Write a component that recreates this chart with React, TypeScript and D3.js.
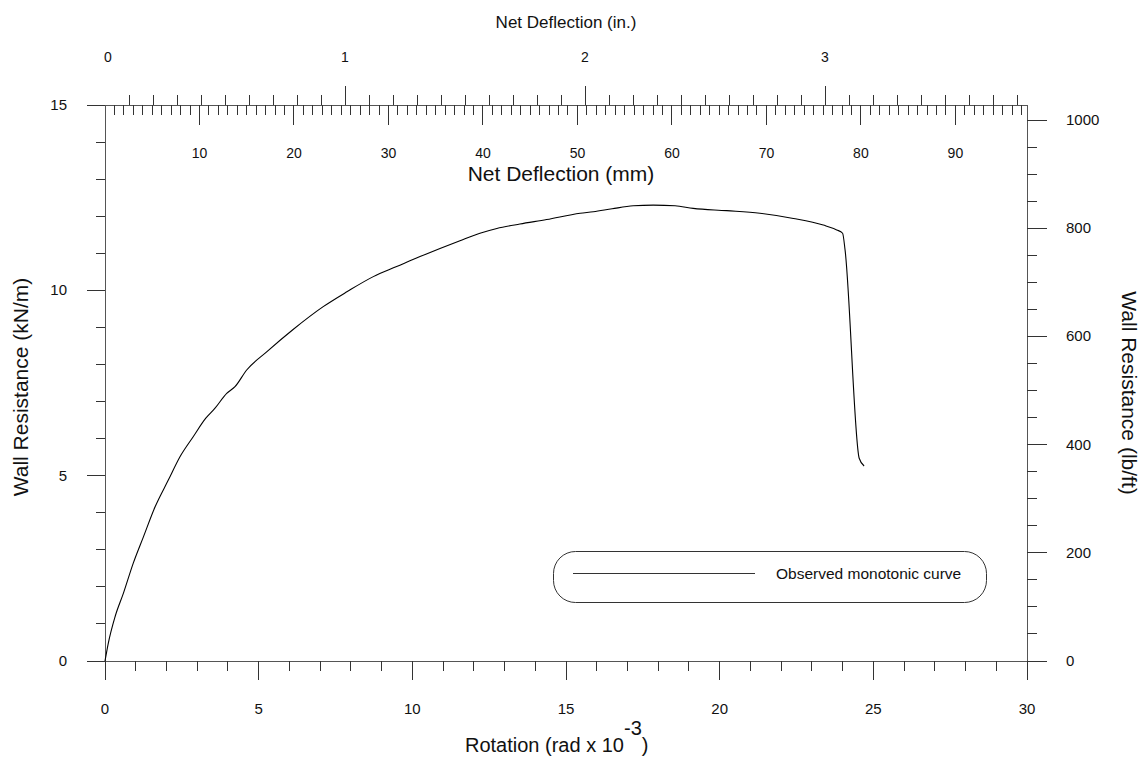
import React, { useEffect, useRef } from 'react';
import * as d3 from 'd3';

// Observed monotonic curve: rotation (rad x 10^-3) vs wall resistance (kN/m)
const rotation = [0, 0.1, 0.33, 0.6, 0.92, 1.25, 1.63, 2.06, 2.44, 2.87, 3.28, 3.58, 3.96, 4.23, 4.61, 5.26, 6.13, 7.1, 7.87, 8.73, 9.49, 10.25, 10.9, 11.55, 12.2, 12.75, 13.5, 14.37, 15.46, 15.89, 16.5, 17.19, 17.84, 18.55, 19.14, 20.23, 21.31, 22.4, 23.37, 23.81, 24.0, 24.08, 24.54, 24.7];
const resistance = [0, 0.45, 1.2, 1.83, 2.64, 3.35, 4.16, 4.88, 5.51, 6.05, 6.55, 6.82, 7.22, 7.4, 7.85, 8.34, 8.95, 9.56, 9.96, 10.37, 10.64, 10.91, 11.13, 11.34, 11.54, 11.67, 11.79, 11.91, 12.08, 12.12, 12.2, 12.28, 12.3, 12.28, 12.21, 12.15, 12.08, 11.94, 11.76, 11.63, 11.54, 11.09, 5.47, 5.26];

const bottomTickLabels = [0, 5, 10, 15, 20, 25, 30];
const leftTickLabels = [0, 5, 10, 15];
const rightTickLabels = [0, 200, 400, 600, 800, 1000];
const inchTickLabels = [0, 1, 2, 3];
const mmTickLabels = [10, 20, 30, 40, 50, 60, 70, 80, 90];

const legendLabel = 'Observed monotonic curve';
const FONT = "'Liberation Sans', Arial, Helvetica, sans-serif";

export default function App() {
  const ref = useRef<SVGSVGElement | null>(null);

  useEffect(() => {
    const svg = d3.select(ref.current);
    svg.selectAll('*').remove();

    const L = 105, R = 1027, T = 105, B = 661;
    const x = d3.scaleLinear().domain([0, 30]).range([L, R]);
    const y = d3.scaleLinear().domain([0, 15]).range([B, T]);
    const yLb = d3.scaleLinear().domain([0, 15 * 68.5218]).range([B, T]);
    const xIn = d3.scaleLinear().domain([0, (R - L) / 240]).range([L, R]);
    const xMm = d3.scaleLinear().domain([0, ((R - L) / 240) * 25.4]).range([L, R]);

    const axisColor = '#555';
    const g = svg.append('g').attr('shape-rendering', 'crispEdges');

    // frame lines
    g.append('line').attr('x1', L).attr('x2', L).attr('y1', T).attr('y2', B).attr('stroke', axisColor);
    g.append('line').attr('x1', R).attr('x2', R).attr('y1', T).attr('y2', B).attr('stroke', axisColor);
    g.append('line').attr('x1', L).attr('x2', R).attr('y1', T).attr('y2', T).attr('stroke', axisColor);
    g.append('line').attr('x1', L).attr('x2', R).attr('y1', B).attr('y2', B).attr('stroke', axisColor);

    const tick = (x1: number, y1: number, x2: number, y2: number) =>
      g.append('line').attr('x1', x1).attr('y1', y1).attr('x2', x2).attr('y2', y2).attr('stroke', '#333');

    // bottom ticks
    d3.range(0, 31).forEach((v) => {
      const major = v % 5 === 0;
      tick(x(v), B, x(v), B + (major ? 19 : 10));
    });
    // left ticks
    d3.range(0, 16).forEach((v) => {
      const major = v % 5 === 0;
      tick(L, y(v), L - (major ? 18 : 9), y(v));
    });
    // right ticks
    d3.range(0, 1001, 50).forEach((v) => {
      const major = v % 200 === 0;
      tick(R, yLb(v), R + (major ? 20 : 10), yLb(v));
    });
    // top inch ticks (upward)
    d3.range(1, 39).forEach((i) => {
      const v = i / 10;
      const major = i % 10 === 0;
      tick(xIn(v), T, xIn(v), T - (major ? 19 : 10));
    });
    // top mm ticks (downward)
    d3.range(1, 98).forEach((v) => {
      const major = v % 10 === 0;
      tick(xMm(v), T, xMm(v), T + (major ? 20 : 10));
    });

    const txt = svg.append('g').attr('font-family', FONT).attr('fill', '#111');

    // tick labels
    bottomTickLabels.forEach((v) =>
      txt.append('text').attr('x', x(v)).attr('y', 714).attr('text-anchor', 'middle').attr('font-size', 15).text(v));
    leftTickLabels.forEach((v) =>
      txt.append('text').attr('x', 67).attr('y', y(v) + 5).attr('text-anchor', 'end').attr('font-size', 15).text(v));
    rightTickLabels.forEach((v) =>
      txt.append('text').attr('x', 1066).attr('y', yLb(v) + 5).attr('text-anchor', 'start').attr('font-size', 15).text(v));
    inchTickLabels.forEach((v) =>
      txt.append('text').attr('x', xIn(v) + (v === 0 ? 3 : 0)).attr('y', 62).attr('text-anchor', 'middle').attr('font-size', 14).text(v));
    mmTickLabels.forEach((v) =>
      txt.append('text').attr('x', xMm(v)).attr('y', 158).attr('text-anchor', 'middle').attr('font-size', 14).text(v));

    // axis titles
    txt.append('text').attr('x', 566).attr('y', 28).attr('text-anchor', 'middle').attr('font-size', 17).text('Net Deflection (in.)');
    txt.append('text').attr('x', 561).attr('y', 181).attr('text-anchor', 'middle').attr('font-size', 21).text('Net Deflection (mm)');
    const bt = txt.append('text').attr('x', 465).attr('y', 752).attr('font-size', 20);
    bt.append('tspan').text('Rotation (rad x 10');
    bt.append('tspan').attr('dy', -17).text('-3');
    bt.append('tspan').attr('dy', 17).text(')');
    txt.append('text').attr('transform', 'translate(28,387) rotate(-90)').attr('text-anchor', 'middle').attr('font-size', 21).text('Wall Resistance (kN/m)');
    txt.append('text').attr('transform', 'translate(1122,393) rotate(90)').attr('text-anchor', 'middle').attr('font-size', 21).text('Wall Resistance (lb/ft)');

    // curve
    const pts = rotation.map((r, i) => [r, resistance[i]] as [number, number]);
    const line = d3.line<[number, number]>().x((d) => x(d[0])).y((d) => y(d[1])).curve(d3.curveMonotoneX);
    svg.append('path').attr('d', line(pts)).attr('fill', 'none').attr('stroke', '#000').attr('stroke-width', 1.1);

    // legend
    const lg = svg.append('g');
    lg.append('rect').attr('x', 553.5).attr('y', 551.5).attr('width', 433).attr('height', 51).attr('rx', 22).attr('ry', 22)
      .attr('fill', 'none').attr('stroke', '#333');
    lg.append('line').attr('x1', 573).attr('x2', 755).attr('y1', 573.5).attr('y2', 573.5).attr('stroke', '#333');
    lg.append('text').attr('x', 776).attr('y', 579).attr('font-family', FONT).attr('font-size', 15.5).attr('fill', '#111').text(legendLabel);
  }, []);

  return (
    <svg ref={ref} width={1146} height={759} style={{ position: 'absolute', left: 0, top: 0, background: '#fff' }} />
  );
}
